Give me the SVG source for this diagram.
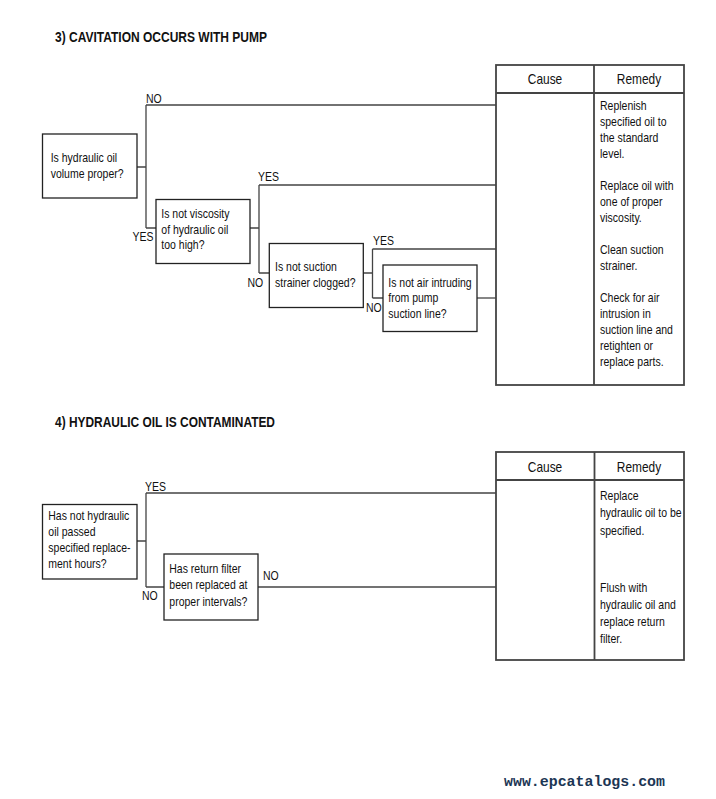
<svg xmlns="http://www.w3.org/2000/svg" width="716" height="799" viewBox="0 0 716 799">
<style>
  .bg{fill:#ffffff}
  .box{fill:#ffffff;stroke:#222;stroke-width:1.3}
  .tbl{fill:none;stroke:#444;stroke-width:1.8}
  .con{fill:none;stroke:#444;stroke-width:1.3}
  .t{font-family:"Liberation Sans",Arial,sans-serif;font-size:12.5px;fill:#111}
  .h{font-family:"Liberation Sans",Arial,sans-serif;font-size:14px;fill:#111;text-anchor:middle}
  .title{font-family:"Liberation Sans",Arial,sans-serif;font-size:14px;font-weight:bold;fill:#111}
  .wm{font-family:"Liberation Mono","Courier New",monospace;font-size:15px;font-weight:bold;fill:#1c3654}
</style>
<rect class="bg" x="0" y="0" width="716" height="799"/>

<text class="title" x="55" y="42" textLength="212" lengthAdjust="spacingAndGlyphs">3)  CAVITATION OCCURS WITH PUMP</text>
<text class="title" x="55" y="427" textLength="220" lengthAdjust="spacingAndGlyphs">4)  HYDRAULIC OIL IS CONTAMINATED</text>

<g id="connectors">
  <path class="con" d="M137,167 H146 M146,105 V228 M146,105 H496 M146,228 H156"/>
  <path class="con" d="M250,228 H259 M259,185 V273 M259,185 H496 M259,273 H269"/>
  <path class="con" d="M363,273 H372.5 M372.5,249 V298 M372.5,249 H496 M372.5,298 H383"/>
  <path class="con" d="M477,298 H496"/>
  <path class="con" d="M137,541 H146 M146,493 V587 M146,493 H496 M146,587 H164"/>
  <path class="con" d="M258,587 H496"/>
  <g class="t">
    <text transform="translate(146,103) scale(0.84 1)">NO</text>
    <text transform="translate(132.5,241) scale(0.84 1)">YES</text>
    <text transform="translate(258,181) scale(0.84 1)">YES</text>
    <text transform="translate(247.5,287) scale(0.84 1)">NO</text>
    <text transform="translate(373,245) scale(0.84 1)">YES</text>
    <text transform="translate(366,312) scale(0.84 1)">NO</text>
    <text transform="translate(145,491) scale(0.84 1)">YES</text>
    <text transform="translate(142,600) scale(0.84 1)">NO</text>
    <text transform="translate(263,580) scale(0.84 1)">NO</text>
  </g>
</g>

<g id="q1">
  <rect class="box" x="42.5" y="134" width="94.5" height="64"/>
  <text class="t" transform="translate(50.7,161.7) scale(0.84 1)"><tspan x="0">Is hydraulic oil</tspan><tspan x="0" dy="16">volume proper?</tspan></text>
</g>
<g id="q2">
  <rect class="box" x="156" y="199.5" width="94" height="64"/>
  <text class="t" transform="translate(161.3,218.3) scale(0.84 1)"><tspan x="0">Is not viscosity</tspan><tspan x="0" dy="15.7">of hydraulic oil</tspan><tspan x="0" dy="15.5">too high?</tspan></text>
</g>
<g id="q3">
  <rect class="box" x="269.3" y="243.5" width="94" height="64"/>
  <text class="t" transform="translate(275,270.7) scale(0.84 1)"><tspan x="0">Is not suction</tspan><tspan x="0" dy="16">strainer clogged?</tspan></text>
</g>
<g id="q4">
  <rect class="box" x="383" y="265" width="94" height="66.5"/>
  <text class="t" transform="translate(388.3,286.7) scale(0.84 1)"><tspan x="0">Is not air intruding</tspan><tspan x="0" dy="15.7">from pump</tspan><tspan x="0" dy="16">suction line?</tspan></text>
</g>

<g id="table1">
  <rect class="tbl" x="496" y="65" width="188" height="320"/>
  <path class="tbl" d="M496,93 H684 M594,65 V385"/>
  <text class="h" transform="translate(545,84) scale(0.85 1)">Cause</text>
  <text class="h" transform="translate(639,84) scale(0.85 1)">Remedy</text>
  <text class="t" transform="translate(600,110) scale(0.84 1)"><tspan x="0">Replenish</tspan><tspan x="0" dy="16">specified oil to</tspan><tspan x="0" dy="16">the standard</tspan><tspan x="0" dy="16">level.</tspan><tspan x="0" dy="32">Replace oil with</tspan><tspan x="0" dy="16">one of proper</tspan><tspan x="0" dy="16">viscosity.</tspan><tspan x="0" dy="32">Clean suction</tspan><tspan x="0" dy="16">strainer.</tspan><tspan x="0" dy="32">Check for air</tspan><tspan x="0" dy="16">intrusion in</tspan><tspan x="0" dy="16">suction line and</tspan><tspan x="0" dy="16">retighten or</tspan><tspan x="0" dy="16">replace parts.</tspan></text>
</g>

<g id="q5">
  <rect class="box" x="42.5" y="504.5" width="94.5" height="74.5"/>
  <text class="t" transform="translate(48.3,520) scale(0.84 1)"><tspan x="0">Has not hydraulic</tspan><tspan x="0" dy="15.9">oil passed</tspan><tspan x="0" dy="16">specified replace-</tspan><tspan x="0" dy="16">ment hours?</tspan></text>
</g>
<g id="q6">
  <rect class="box" x="164" y="554" width="94" height="66"/>
  <text class="t" transform="translate(169.3,573.3) scale(0.84 1)"><tspan x="0">Has return filter</tspan><tspan x="0" dy="15.8">been replaced at</tspan><tspan x="0" dy="16.6">proper intervals?</tspan></text>
</g>

<g id="table2">
  <rect class="tbl" x="496" y="452" width="188" height="208"/>
  <path class="tbl" d="M496,480 H684 M594.5,452 V660"/>
  <text class="h" transform="translate(545,472) scale(0.85 1)">Cause</text>
  <text class="h" transform="translate(639,472) scale(0.85 1)">Remedy</text>
  <text class="t" transform="translate(600,500) scale(0.84 1)"><tspan x="0">Replace</tspan><tspan x="0" dy="17.5">hydraulic oil to be</tspan><tspan x="0" dy="17.5">specified.</tspan><tspan x="0" dy="57">Flush with</tspan><tspan x="0" dy="17">hydraulic oil and</tspan><tspan x="0" dy="17">replace return</tspan><tspan x="0" dy="17">filter.</tspan></text>
</g>

<text class="wm" x="504" y="786" textLength="161" lengthAdjust="spacingAndGlyphs">www.epcatalogs.com</text>
</svg>
